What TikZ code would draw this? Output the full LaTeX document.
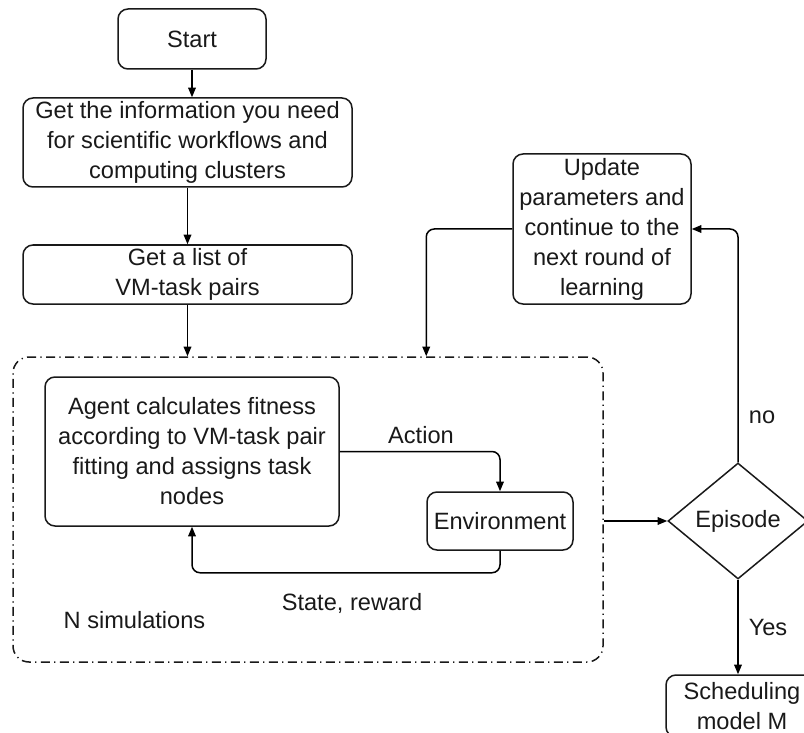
\documentclass[tikz,border=0pt]{standalone}
\usepackage{fontspec}
\setmainfont{Liberation Sans}
\usepackage{tikz}
\usetikzlibrary{shapes.geometric, arrows.meta, calc}
\tikzstyle{arrow} = [line width=0.75pt,-{Triangle[length=4.8pt,width=3.8pt]}]

\begin{document}
\begin{tikzpicture}
[x=0.5pt, y=-0.5pt, font=\fontsize{11.8}{15}\selectfont, text=black!90,
stepbox/.style={rectangle,rounded corners=5pt,draw=black!90,line width=0.75pt,align=center,inner sep=1pt},
simbox/.style={rectangle,rounded corners=8pt,draw=black!90,line width=0.75pt,dash pattern=on 4.5pt off 2.2pt on 0.6pt off 2.2pt},
decbox/.style={diamond,draw=black!90,line width=0.75pt,inner sep=0pt,minimum width=70pt,minimum height=58pt},]
\useasboundingbox (0,0) rectangle (804,733);
\clip (0,0) rectangle (804,733);
\node[stepbox,minimum width=74pt,minimum height=30pt] (start) at (192,39) {Start};
\node[stepbox,minimum width=164.5pt,minimum height=44.5pt] (info) at (187.5,142.5) {Get the information you need\\for scientific workflows and\\computing clusters};
\node[stepbox,minimum width=164.5pt,minimum height=29.5pt] (list) at (187.5,274.5) {Get a list of\\VM-task pairs};
\node[simbox,minimum width=295pt,minimum height=152.5pt] (sim) at (308,509.5) {};
\node[stepbox,minimum width=147pt,minimum height=74.5pt] (agent) at (192,451.5) {Agent calculates fitness\\according to VM-task pair\\fitting and assigns task\\nodes};
\node[stepbox,minimum width=73pt,minimum height=29pt] (env) at (500,521) {Environment};
\node[stepbox,minimum width=89pt,minimum height=75pt] (update) at (602,229) {Update\\parameters and\\continue to the\\next round of\\learning};
\node[decbox] (episode) at (738,521) {Episode};
\node[stepbox,minimum width=76pt,minimum height=31pt] (sched) at (742,706) {Scheduling\\model M};

\node (action) at (421,435) {Action};
\node (state) at (352,603) {State, reward};
\node (nsim) at (134.5,620) {N simulations};
\node (no) at (762,417) {no};
\node (yes) at (768,627) {Yes};

\draw[arrow] (start.south) -- (start.south |- info.north);
\draw[arrow] (info.south) -- (info.south |- list.north);
\draw[arrow] (list.south) -- (list.south |- sim.north);
\draw[arrow,rounded corners=4pt] (agent.east) -| (env.north);
\draw[arrow,rounded corners=4pt] (env.south) -- ++(0,22) -| (agent.south);
\draw[arrow] (sim.east |- episode.west) -- (episode.west);
\draw[arrow,rounded corners=4pt] (episode.north) |- (update.east);
\draw[arrow,rounded corners=4pt] (update.west) -| (env.north west |- sim.north);
\draw[arrow] (episode.south) -- (episode.south |- sched.north);
\end{tikzpicture}
\end{document}
